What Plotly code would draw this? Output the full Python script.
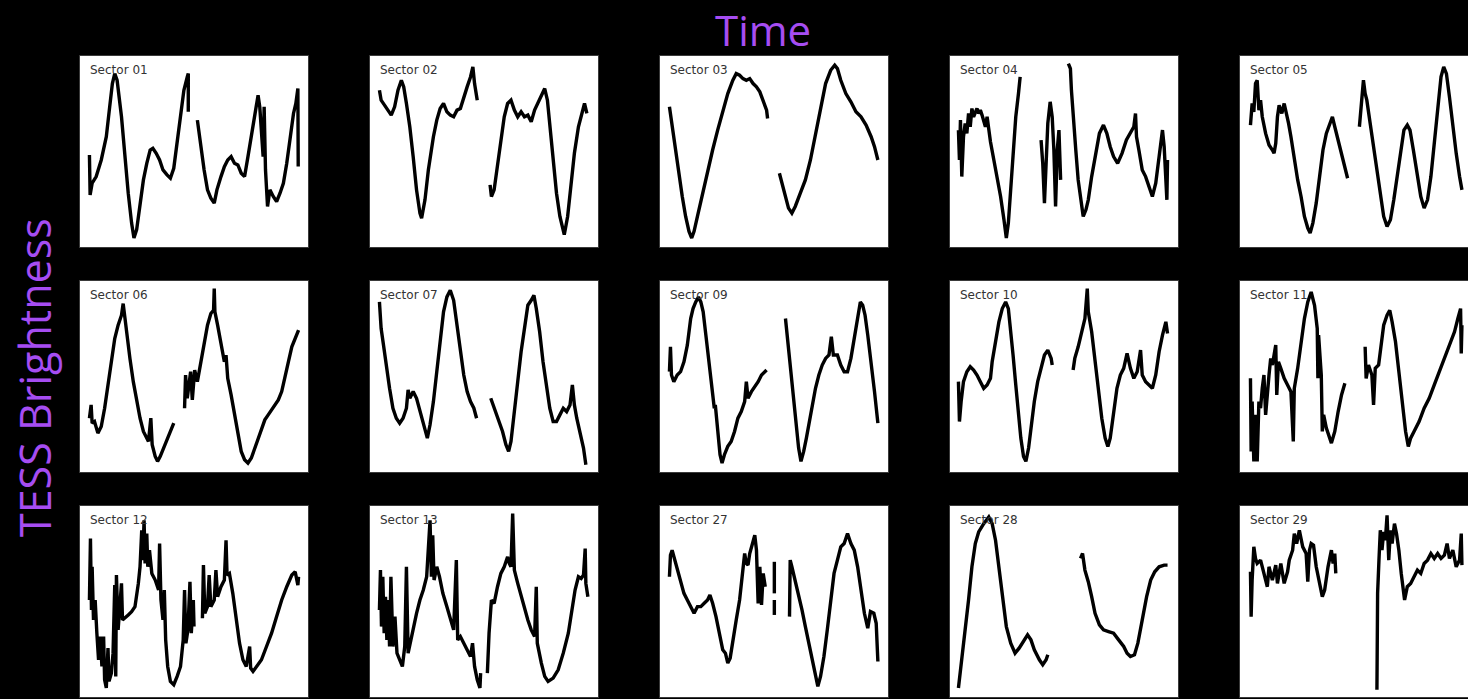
import plotly.graph_objects as go

# ---------------- data (time in arbitrary units, relative brightness) ----------------
sector_labels = ["Sector 01", "Sector 02", "Sector 03", "Sector 04", "Sector 05",
                 "Sector 06", "Sector 07", "Sector 09", "Sector 10", "Sector 11",
                 "Sector 12", "Sector 13", "Sector 27", "Sector 28", "Sector 29"]

s01_t = [28,30,36,48,63,78,88,96,103,110,123,133,143,153,160,168,178,188,198,208,216,226,236,246,258,268,278,288,298,308,318,321,321, None,
         348,358,368,378,388,398,406,418,428,438,448,458,468,478,488,498,508,518,528,533,538,543,546,550,556,563,573,583,593,603,613,623,633,640,646,647]
s01_f = [285,165,200,220,270,340,430,500,530,510,400,280,170,80,35,60,130,210,260,300,305,290,270,240,225,215,245,330,410,480,520,530,415, None,
         390,310,240,180,155,140,180,220,250,270,280,260,255,230,220,280,340,400,465,430,360,280,430,240,130,180,160,145,170,200,260,330,410,440,485,250]

s02_t = [28,33,43,53,63,73,83,93,100,108,118,128,138,148,153,163,173,188,198,208,218,228,238,248,258,268,278,288,298,305,310,318, None,
         356,360,368,378,388,398,408,418,428,438,448,458,468,478,488,498,508,518,526,533,543,553,563,576,586,596,606,618,628,636,643]
s02_f = [480,450,435,420,405,430,480,510,490,440,370,280,180,110,95,150,240,340,390,425,440,415,405,400,420,425,460,490,520,550,500,450, None,
         195,160,180,260,340,400,440,450,420,400,415,400,405,385,420,440,460,485,450,370,270,170,100,45,100,200,290,370,410,440,410]

s03_t = [28,36,46,56,66,76,86,94,101,111,126,141,156,171,186,201,216,226,236,246,256,266,276,286,296,306,316,319, None,
         354,361,371,381,391,401,416,431,446,461,476,491,506,518,526,536,551,566,581,596,611,626,636,646]
s03_f = [430,370,300,230,160,100,55,35,55,100,170,240,300,360,420,470,510,530,525,515,510,515,500,490,475,450,420,395, None,
         230,200,160,125,110,130,170,210,270,350,430,500,540,555,545,510,470,445,415,400,375,340,310,270]

s04_t = [25,28,31,35,40,45,50,55,60,65,70,75,80,85,90,95,100,105,110,115,120,130,140,150,160,167,173,180,187,195,203,208, None,
         270,275,280,285,290,297,303,308,313,318,323,328, None,
         351,357,360,365,373,380,387,395,403,410,420,430,443,455,465,475,485,497,510,523,535,545,550,553,560,570,580,590,600,610,620,630,635,640,643,645]
s04_f = [360,270,390,220,340,380,350,410,370,425,400,415,425,410,420,405,390,370,400,360,325,270,220,160,90,35,80,180,270,400,470,520, None,
         330,260,140,260,380,445,400,300,130,300,360,210, None,
         560,545,480,400,300,210,150,100,120,150,220,280,350,375,350,310,280,260,290,330,350,370,410,340,300,240,220,190,160,200,290,360,310,220,150,270]

s05_t = [31,36,41,46,51,56,61,66,76,86,96,101,106,111,116,124,131,136,144,151,161,171,181,191,201,208,216,226,236,246,256,266,274,281,291,301,311,319, None,
         354,361,366,371,376,386,396,406,416,426,436,446,456,466,476,486,496,504,514,526,536,546,556,566,576,586,596,604,612,621,631,641,651,658]
s05_f = [375,440,415,500,510,420,450,400,350,315,300,290,320,400,435,410,440,420,380,340,270,210,160,100,65,50,80,140,220,300,350,380,400,370,330,280,250,215, None,
         370,460,510,470,450,380,310,230,160,100,70,90,150,220,300,360,375,360,300,220,160,125,150,220,320,430,520,550,530,460,370,290,220,180]

s06_t = [28,33,36,43,53,63,73,83,93,103,113,123,128,133,138,148,158,168,178,188,203,210,214,223,230,238,248,258,268,278, None,
         310,313,318,328,333,340,348,358,368,378,388,396,398,400,408,418,428,433,438,448,458,468,478,488,498,508,518,528,538,548,558,568,578,588,598,608,618,628,638,648]
s06_f = [170,210,155,160,125,145,200,270,340,410,450,480,515,470,420,350,280,220,170,130,100,170,90,55,40,55,80,110,130,155, None,
         200,300,230,310,225,315,280,340,400,450,485,495,560,490,450,390,340,360,290,240,180,120,70,45,35,50,80,110,140,165,180,195,210,225,250,290,340,385,410,435]

s07_t = [28,33,40,48,58,68,78,88,98,108,113,118,128,138,148,158,170,178,188,198,208,218,228,238,248,258,268,278,288,298,308,316, None,
         358,363,373,383,393,403,411,418,428,438,448,458,468,478,486,493,503,513,523,533,543,553,563,573,583,593,600,606,613,623,633,640]
s07_f = [520,440,390,330,260,200,170,155,170,200,255,230,250,230,190,150,110,150,220,310,410,490,535,555,525,450,370,300,250,220,200,170, None,
         230,215,190,160,130,90,70,100,180,280,370,440,510,525,540,500,430,340,260,200,160,160,180,200,190,210,270,210,170,120,80,30]

s09_t = [28,31,34,41,51,61,71,81,91,98,106,114,121,128,136,146,154,161,164,171,178,184,191,201,211,221,231,241,251,256,261,271,281,291,301,311,316, None,
         372,381,391,401,411,418,426,434,441,451,461,471,481,491,501,508,514,526,536,546,556,566,576,586,594,601,608,616,626,636,646]
s09_f = [310,385,300,280,300,310,340,390,470,500,520,535,520,490,420,340,270,200,210,120,60,35,60,85,100,130,170,190,220,280,230,250,265,280,300,310,315, None,
         470,380,270,160,80,40,70,110,150,200,260,300,330,350,360,415,360,360,330,310,310,350,410,470,520,510,480,420,340,250,155]

s10_t = [25,28,33,40,50,60,70,80,90,100,110,120,125,135,145,155,165,173,180,187,195,203,210,218,225,233,240,250,260,270,280,290,300,303, None,
         365,370,380,390,400,407,410,420,430,440,450,460,468,475,485,495,505,515,525,535,545,555,565,570,580,590,600,610,620,630,640,645]
s10_f = [280,160,220,280,310,325,315,300,280,260,270,290,340,400,460,500,520,500,440,360,270,180,110,55,40,80,140,220,280,320,360,375,350,330, None,
         315,350,385,430,470,560,490,430,340,250,170,110,85,110,180,260,300,320,365,320,290,310,375,300,280,270,260,300,370,420,460,425]

s11_t = [31,33,36,41,46,51,56,61,66,71,76,81,86,91,96,101,106,109,114,121,131,141,151,158,161,171,181,191,201,211,221,229,231,233,241,244,248,256,271,281,291,301,311, None,
         371,374,381,391,396,401,411,421,426,436,444,451,461,471,481,491,499,506,516,531,546,561,576,591,606,621,636,646,654,656,658]
s11_f = [290,70,220,40,180,40,220,200,260,300,180,260,300,350,330,360,390,240,340,320,290,270,250,100,260,320,400,470,520,550,510,440,290,420,300,130,180,140,95,130,190,240,275, None,
         385,290,330,300,210,320,330,400,450,480,495,460,400,310,210,130,85,110,130,160,200,230,270,310,350,390,430,470,500,365,450]

s12_t = [28,31,34,36,40,45,50,55,60,65,70,73,78,83,86,93,98,103,106,108,113,118,123,126,133,143,153,163,173,178,183,186,190,193,198,201,206,213,223,233,236,240,246,250,254,260,268,278,288,298,306,310,314,320,326,330,336,338, None,
         363,366,370,378,383,388,398,403,408,418,428,433,436,443,453,463,473,483,493,503,506,513,523,538,553,568,583,598,613,628,638,646,648]
s12_f = [300,485,270,400,240,300,200,120,190,100,190,60,35,155,55,80,140,345,70,375,210,290,350,240,245,255,265,280,350,400,510,420,540,410,500,400,450,380,360,330,470,300,240,330,180,100,55,45,70,100,180,330,170,210,355,200,300,220, None,
         245,405,260,280,375,280,300,390,310,340,360,480,375,380,320,240,170,120,100,160,95,85,100,120,160,200,250,300,340,375,385,345,370]

s13_t = [28,31,34,38,42,46,50,54,58,62,68,74,80,88,96,103,108,113,121,128,138,148,158,168,176,178,182,186,190,198,206,216,228,238,248,256,260,268,278,288,298,304,310,318,326,328, None,
         348,353,360,368,378,388,398,408,413,418,423,428,438,448,458,468,478,488,493,496,508,518,528,543,558,573,588,598,608,618,626,633,638,640,646]
s13_f = [270,390,220,370,200,310,180,300,160,370,160,250,140,120,100,160,400,140,180,220,260,300,330,370,490,540,370,495,360,400,370,320,280,240,210,420,180,190,170,150,130,170,100,60,35,80, None,
         80,200,300,290,340,380,400,430,410,400,560,390,350,310,270,240,210,190,340,170,110,70,55,65,90,140,200,270,330,370,365,375,455,350,310]

s27_t = [28,31,36,41,51,61,71,81,91,101,111,121,131,141,148,156,166,176,186,194,201,208,216,226,236,244,251,256,261,266,274,281,286,291,296,301,306,312, None,
         339,339, None, 339,339, None,
         384,386,391,401,411,421,431,441,451,461,468,476,486,496,506,516,526,536,546,556,566,576,586,596,606,616,624,634,641,646]
s27_f = [370,435,450,430,395,360,320,300,280,260,280,280,290,300,315,290,250,200,150,140,110,125,180,240,300,370,440,410,405,440,465,495,450,290,400,285,380,340, None,
         415,320, None, 300,255, None,
         250,420,400,360,320,270,220,170,120,80,40,70,130,210,300,380,420,460,470,500,470,450,400,320,260,215,265,260,230,115]

s28_t = [25,35,45,55,65,75,85,100,115,125,135,145,155,167,180,193,205,217,230,240,250,265,275,285,290, None,
         387,393,400,410,420,430,443,455,470,485,500,515,525,535,547,557,570,583,595,607,620,635,645]
s28_f = [35,120,200,300,400,470,505,530,550,530,480,400,300,220,170,140,155,175,195,180,150,120,105,120,135, None,
         425,440,390,355,310,260,225,210,205,200,180,160,140,130,135,170,240,310,360,385,400,405,405]

s29_t = [31,33,36,41,46,51,61,71,81,86,96,106,111,121,131,141,146,156,161,168,176,186,196,201,206,211,218,226,236,244,251,261,271,276,281,284, None,
         406,408,412,416,421,426,431,436,441,446,451,458,464,471,478,484,488,496,506,516,526,536,546,556,566,576,586,596,606,614,621,631,641,651,656,658]
s29_f = [385,250,360,460,425,410,420,380,340,400,360,405,350,410,350,385,420,450,500,470,510,460,440,355,450,470,465,400,350,310,330,400,450,410,440,380, None,
         30,320,420,510,450,505,480,555,420,510,470,530,500,450,380,330,300,340,350,370,390,380,410,420,440,425,440,425,435,470,425,450,400,420,500,405]

times = [s01_t, s02_t, s03_t, s04_t, s05_t, s06_t, s07_t, s09_t, s10_t, s11_t,
         s12_t, s13_t, s27_t, s28_t, s29_t]
fluxes = [s01_f, s02_f, s03_f, s04_f, s05_f, s06_f, s07_f, s09_f, s10_f, s11_f,
          s12_f, s13_f, s27_f, s28_f, s29_f]

# ---------------- layout ----------------
W, H = 1468, 699
col_left = [80, 370, 660, 950, 1240]
row_top = [56, 281, 506]
pw, ph = 228, 191
purple = "#A64DF2"

fig = go.Figure()
annotations = []
for i in range(15):
    r, c = divmod(i, 5)
    n = i + 1
    sfx = "" if n == 1 else str(n)
    x0 = col_left[c] / W
    x1 = min((col_left[c] + pw) / W, 1.0)
    y1 = 1 - row_top[r] / H
    y0 = max(1 - (row_top[r] + ph) / H, 0.0)
    axis_common = dict(showgrid=False, zeroline=False, showticklabels=False, ticks="",
                       showline=True, mirror=True, linecolor="#3a3a3a", linewidth=1,
                       fixedrange=True)
    fig.update_layout(**{
        f"xaxis{sfx}": dict(domain=[x0, x1], range=[0, 676], anchor=f"y{sfx}", **axis_common),
        f"yaxis{sfx}": dict(domain=[y0, y1], range=[8, 583], anchor=f"x{sfx}", **axis_common),
    })
    fig.add_trace(go.Scatter(x=times[i], y=fluxes[i], mode="lines",
                             line=dict(color="black", width=3.4),
                             connectgaps=False, hoverinfo="skip",
                             xaxis=f"x{sfx}", yaxis=f"y{sfx}", showlegend=False))
    annotations.append(dict(text=sector_labels[i], xref=f"x{sfx} domain",
                            yref=f"y{sfx} domain", x=0.035, y=0.925,
                            xanchor="left", yanchor="middle", showarrow=False,
                            font=dict(family="DejaVu Sans", size=12, color="#333333")))

annotations.append(dict(text="Time", xref="paper", yref="paper", x=763 / W, y=1.0,
                        xanchor="center", yanchor="top", showarrow=False, borderpad=0,
                        font=dict(family="Open Sans", size=42, color=purple)))
annotations.append(dict(text="TESS Brightness", xref="paper", yref="paper", x=34 / W, y=1 - 378 / H,
                        xanchor="center", yanchor="middle", showarrow=False, textangle=-90,
                        font=dict(family="Open Sans", size=43, color=purple)))

fig.update_layout(width=W, height=H, margin=dict(l=0, r=0, t=0, b=0),
                  paper_bgcolor="black", plot_bgcolor="white",
                  annotations=annotations, showlegend=False)

fig.write_html("out.html", config={"displayModeBar": False},
               post_script="document.body.style.margin='0';document.body.style.background='black';document.body.style.overflow='hidden';")
